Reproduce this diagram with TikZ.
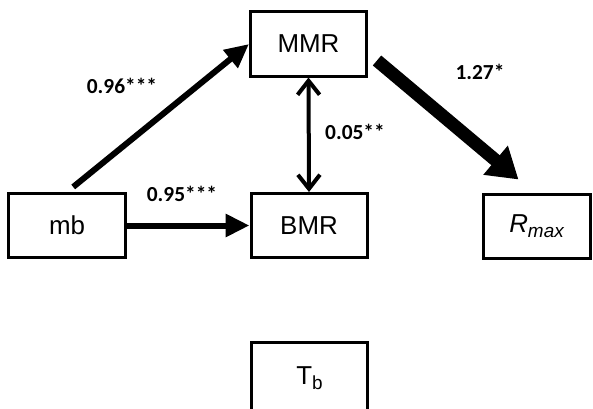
\documentclass[tikz,border=0pt]{standalone}
\usepackage{fontspec}
\setmainfont{Liberation Sans}
\newfontfamily\labfont{Carlito}
\usetikzlibrary{arrows.meta,calc}
\begin{document}
\begin{tikzpicture}[x=1bp,y=1bp,
  box/.style={draw, line width=3bp, inner sep=0pt, minimum width=116bp, minimum height=64bp,
    font=\fontsize{26}{28}\selectfont},
  lab/.style={font=\labfont\bfseries\fontsize{21.5}{23}\selectfont, inner sep=0pt},
  arr/.style={line width=6bp, -{Triangle[length=24bp,width=22bp]}},
  big/.style={line width=13bp, -{Triangle[length=30bp,width=36bp]}},
  dbl/.style={line width=4bp, {Straight Barb[length=14bp,width=22bp]}-{Straight Barb[length=14bp,width=22bp]}}
]
\useasboundingbox (0,0) rectangle (593,408);
\node[box] (MMR) at (308.5,364) {MMR};
\node[box] (mb) at (67,182.5) {mb};
\node[box] (BMR) at (309,182.5) {BMR};
\node[box, minimum width=107bp] (Rmax) at (536.5,182) {\itshape R\raisebox{-0.35ex}{\fontsize{19}{20}\selectfont max}};
\node[box, minimum height=72bp] (Tb) at (309.5,30) {T\raisebox{-0.4ex}{\fontsize{19}{20}\selectfont b}};

\coordinate (s1) at ($(MMR.south east)+(9,17)$);
\coordinate (e1) at ($(Rmax.north west)+(37,13)$);

\draw[arr, shorten <=8bp] (mb.north) -- (MMR.west);
\draw[arr] (mb.east) -- (BMR.west);
\draw[dbl] (MMR.south) -- (BMR.north);
\draw[big] (s1) -- (e1);

\node[lab] (l1) at (122,322) {0.96***};
\node[lab] (l2) at (182,214) {0.95***};
\node[lab] (l3) at (355,276) {0.05**};
\node[lab] (l4) at (480,336) {1.27*};
\end{tikzpicture}
\end{document}
